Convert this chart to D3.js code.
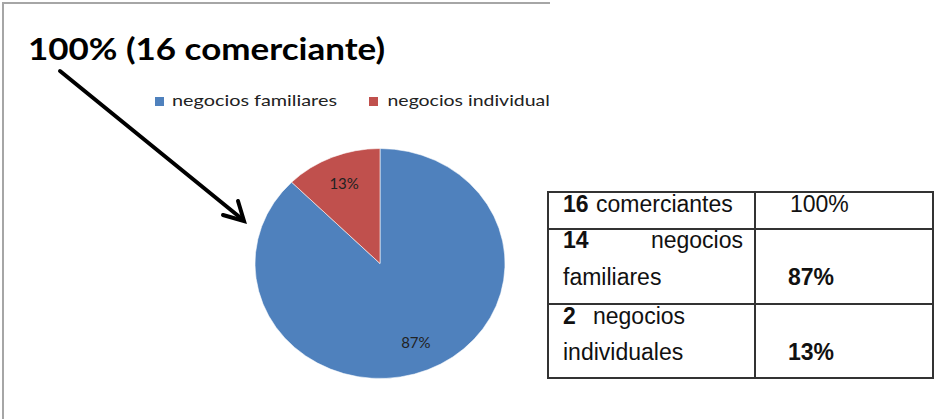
<!DOCTYPE html>
<html>
<head>
<meta charset="utf-8">
<script src="https://cdn.jsdelivr.net/npm/d3@7"></script>
<style>
  html, body { margin: 0; padding: 0; background: #fff; }
  svg { display: block; }
</style>
</head>
<body>
<svg id="chart" width="936" height="419"></svg>
<script>
// ---- data ----
const title = "100% (16 comerciante)";
const categories = ["negocios familiares", "negocios individuales"];
const values = [14, 2];
const sliceLabels = ["87%", "13%"];
const colors = ["#4F81BD", "#C0504D"];
const tableCounts = ["16", "14", "2"];
const tableLabels = ["comerciantes", "negocios familiares", "negocios individuales"];
const tablePercents = ["100%", "87%", "13%"];

const svg = d3.select("#chart");
svg.append("rect").attr("width", 936).attr("height", 419).attr("fill", "#fff");

// clip for chart area (legend is cut at the chart frame)
svg.append("clipPath").attr("id", "chartClip")
  .append("rect").attr("x", 0).attr("y", 0).attr("width", 549).attr("height", 419);

// chart frame
svg.append("path")
  .attr("d", d3.line()([[3, 419], [3, 3], [550, 3]]))
  .attr("fill", "none").attr("stroke", "#a6a6a6").attr("stroke-width", 2);

const chartG = svg.append("g").attr("clip-path", "url(#chartClip)");

// title
chartG.append("text")
  .attr("x", 28).attr("y", 60)
  .attr("font-family", "Lato, 'Open Sans', sans-serif")
  .attr("font-weight", "bold").attr("font-size", 31)
  .attr("textLength", 357).attr("lengthAdjust", "spacingAndGlyphs")
  .attr("fill", "#000").text(title);

// legend
const legendX = [155, 369];
const legendW = [165, 181];
const leg = chartG.selectAll("g.leg").data(categories).join("g").attr("class", "leg");
leg.append("rect")
  .attr("x", (d, i) => legendX[i]).attr("y", 97)
  .attr("width", 9).attr("height", 9)
  .attr("fill", (d, i) => colors[i]);
leg.append("text")
  .attr("x", (d, i) => legendX[i] + 17 + i * 1.5).attr("y", 106)
  .attr("font-family", "Lato, 'Open Sans', sans-serif").attr("font-size", 15)
  .attr("textLength", (d, i) => legendW[i]).attr("lengthAdjust", "spacingAndGlyphs")
  .attr("fill", "#222").text(d => d);

// pie
const cx = 380, cy = 263.5, r = 125, sy = 0.92;
const pie = d3.pie().sort(null)(values);
const arc = d3.arc().innerRadius(0).outerRadius(r);
const labelArc = d3.arc().innerRadius(r * 0.75).outerRadius(r * 0.75);
const pieG = chartG.append("g").attr("transform", `translate(${cx},${cy}) scale(1,${sy})`);
pieG.selectAll("path").data(pie).join("path")
  .attr("d", arc)
  .attr("fill", (d, i) => colors[i])
  .attr("stroke", "#fff").attr("stroke-width", 0.6);

chartG.selectAll("text.slice").data(pie).join("text").attr("class", "slice")
  .attr("x", d => cx + labelArc.centroid(d)[0])
  .attr("y", d => cy + labelArc.centroid(d)[1] * sy + 5)
  .attr("text-anchor", "middle")
  .attr("font-family", "Lato, 'Open Sans', sans-serif").attr("font-size", 15)
  .attr("fill", "#222")
  .text((d, i) => sliceLabels[i]);

// arrow
const arrowG = svg.append("g").attr("fill", "none").attr("stroke", "#000")
  .attr("stroke-width", 4).attr("stroke-linecap", "round").attr("stroke-linejoin", "miter");
arrowG.append("path").attr("d", d3.line()([[60, 71], [242, 219]]));
arrowG.append("path").attr("d", d3.line()([[223, 215], [244, 221], [238, 201]]));

// table
const colX = [548, 755, 933];
const rowY = [192, 229, 304, 378];
const tG = svg.append("g");
tG.selectAll("line.h").data(rowY).join("line").attr("class", "h")
  .attr("x1", colX[0] - 1).attr("x2", colX[2] + 1)
  .attr("y1", d => d).attr("y2", d => d)
  .attr("stroke", "#333").attr("stroke-width", 2);
tG.selectAll("line.v").data(colX).join("line").attr("class", "v")
  .attr("x1", d => d).attr("x2", d => d)
  .attr("y1", rowY[0]).attr("y2", rowY[3])
  .attr("stroke", "#333").attr("stroke-width", 2);

const tFont = "'Liberation Sans', Arial, sans-serif";
const fs = 23;
function txt(x, y, s, bold, anchor) {
  tG.append("text").attr("x", x).attr("y", y)
    .attr("font-family", tFont).attr("font-size", fs)
    .attr("font-weight", bold ? "bold" : "normal")
    .attr("text-anchor", anchor || "start")
    .attr("fill", "#111").text(s);
}
// row 1
txt(563, 212, tableCounts[0], true);
txt(596, 212, tableLabels[0], false);
txt(790, 212, tablePercents[0], false);
// row 2
const r2 = tableLabels[1].split(" ");
txt(563, 248, tableCounts[1], true);
txt(743, 248, r2[0], false, "end");
txt(563, 285, r2[1], false);
txt(788, 285, tablePercents[1], true);
// row 3
const r3 = tableLabels[2].split(" ");
txt(563, 324, tableCounts[2], true);
txt(593, 324, r3[0], false);
txt(563, 360, r3[1], false);
txt(788, 360, tablePercents[2], true);
</script>
</body>
</html>
